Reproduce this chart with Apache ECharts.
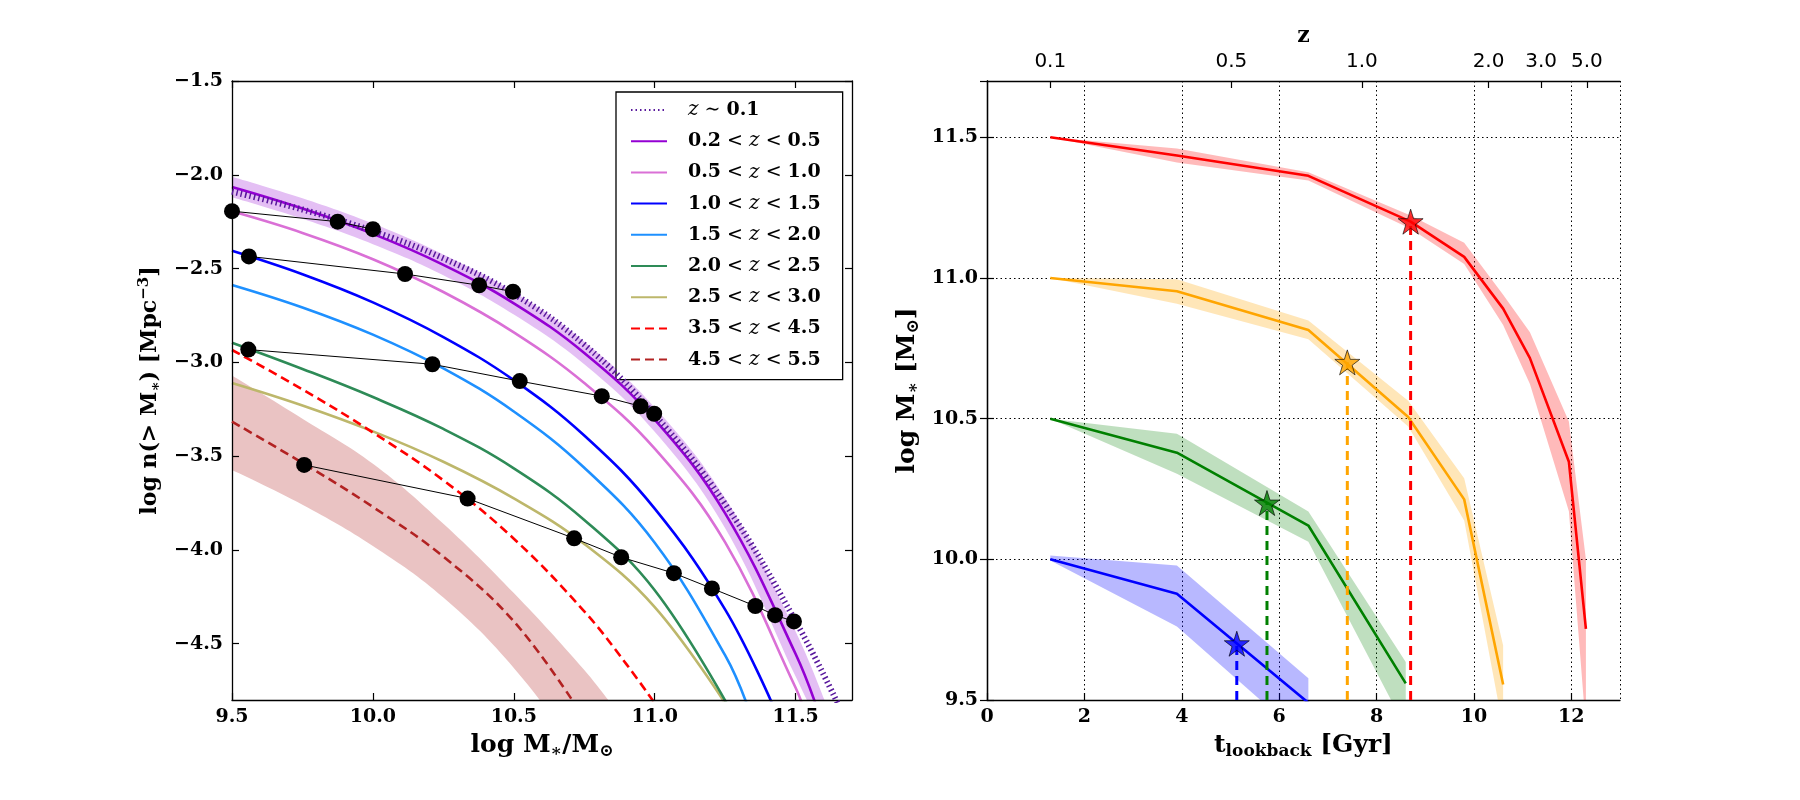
<!DOCTYPE html>
<html>
<head>
<meta charset="utf-8">
<script src="https://cdn.jsdelivr.net/npm/echarts@6/dist/echarts.min.js"></script>
<style>
html,body{margin:0;padding:0;background:#ffffff;}
#c{width:1800px;height:800px;}
</style>
</head>
<body>
<div id="c"></div>
<script>
// ---------------- LEFT PANEL DATA (log M*, log n(>M*)) ----------------
const seriesNames = ['z ∼ 0.1','0.2 < z < 0.5','0.5 < z < 1.0','1.0 < z < 1.5','1.5 < z < 2.0','2.0 < z < 2.5','2.5 < z < 3.0','3.5 < z < 4.5','4.5 < z < 5.5'];

const massZ01 = [9.5, 9.75, 10.0, 10.25, 10.5, 10.75, 11.0, 11.25, 11.5, 11.65];
const nZ01    = [-2.09, -2.185, -2.30, -2.445, -2.635, -2.905, -3.28, -3.755, -4.38, -4.82];

const massZ02 = [9.5, 9.75, 10.0, 10.25, 10.5, 10.75, 11.0, 11.25, 11.5, 11.58];
const nZ02    = [-2.065, -2.18, -2.315, -2.48, -2.685, -2.95, -3.305, -3.805, -4.555, -4.86];

const massZ02Band = [9.5, 9.75, 10.0, 10.25, 10.5, 10.75, 11.0, 11.25, 11.5, 11.62];
const nZ02Hi      = [-2.01, -2.125, -2.26, -2.425, -2.625, -2.89, -3.24, -3.725, -4.435, -4.87];
const nZ02Lo      = [-2.12, -2.235, -2.37, -2.535, -2.745, -3.01, -3.37, -3.885, -4.675, -5.05];

const massZ05 = [9.5, 9.75, 10.0, 10.25, 10.5, 10.75, 11.0, 11.25, 11.5, 11.53];
const nZ05    = [-2.195, -2.31, -2.45, -2.625, -2.84, -3.11, -3.46, -3.96, -4.735, -4.85];

const massZ10 = [9.5, 9.75, 10.0, 10.25, 10.5, 10.75, 11.0, 11.25, 11.42];
const nZ10    = [-2.405, -2.53, -2.68, -2.865, -3.095, -3.39, -3.78, -4.318, -4.83];

const massZ15 = [9.5, 9.75, 10.0, 10.25, 10.5, 10.75, 11.0, 11.25, 11.33];
const nZ15    = [-2.587, -2.707, -2.852, -3.032, -3.262, -3.562, -3.962, -4.562, -4.834];

const massZ20 = [9.5, 9.75, 10.0, 10.25, 10.5, 10.75, 11.0, 11.26];
const nZ20    = [-2.895, -3.035, -3.185, -3.355, -3.565, -3.84, -4.215, -4.83];

const massZ25 = [9.5, 9.75, 10.0, 10.25, 10.5, 10.75, 11.0, 11.25];
const nZ25    = [-3.11, -3.23, -3.368, -3.53, -3.725, -3.968, -4.305, -4.818];

const massZ35 = [9.5, 9.75, 10.0, 10.25, 10.5, 10.75, 10.9, 11.02];
const nZ35    = [-2.934, -3.144, -3.374, -3.629, -3.94, -4.3275, -4.61, -4.86];

const massZ45 = [9.5, 9.75, 10.0, 10.25, 10.5, 10.72];
const nZ45    = [-3.316, -3.536, -3.771, -4.036, -4.381, -4.83];

const massZ45Band = [9.5, 9.75, 10.0, 10.25, 10.5, 10.75, 10.85];
const nZ45Hi      = [-3.07, -3.30, -3.54, -3.86, -4.23, -4.64, -4.83];
const nZ45Lo      = [-3.574, -3.759, -3.979, -4.254, -4.629, -5.13, -5.35];

// constant-density tracks (black points)
const track1M = [9.5, 9.875, 10.0];
const track1N = [-2.194, -2.25, -2.29];
const track2M = [9.56, 10.114, 10.377, 10.497];
const track2N = [-2.435, -2.529, -2.589, -2.623];
const track3M = [9.558, 10.211, 10.521, 10.812, 10.95, 10.998];
const track3N = [-2.932, -3.01, -3.10, -3.18, -3.234, -3.274];
const track4M = [9.756, 10.336, 10.714, 10.881, 11.068, 11.203, 11.357, 11.427, 11.494];
const track4N = [-3.547, -3.726, -3.938, -4.039, -4.124, -4.205, -4.299, -4.348, -4.381];

const leftXTicks = [9.5, 10.0, 10.5, 11.0, 11.5];
const leftYTicks = [-4.5, -4.0, -3.5, -3.0, -2.5, -2.0, -1.5];
const leftYMin = -4.8;

// ---------------- RIGHT PANEL DATA (t_lookback, log M*) ----------------
const tRed = [1.3, 3.9, 6.6, 8.7, 9.8, 10.6, 11.15, 11.95, 12.3];
const mRed = [11.5, 11.435, 11.363, 11.2, 11.075, 10.891, 10.715, 10.347, 9.753];
const mRedHi = [11.5, 11.46, 11.376, 11.222, 11.125, 10.94, 10.807, 10.49, 10.0];
const mRedLo = [11.5, 11.41, 11.346, 11.175, 11.05, 10.833, 10.623, 10.171, 9.4];

const tOrange = [1.3, 3.9, 6.6, 8.65, 9.8, 10.6];
const mOrange = [11.0, 10.953, 10.815, 10.506, 10.213, 9.555];
const mOrangeHi = [11.0, 10.995, 10.849, 10.564, 10.288, 9.694];
const mOrangeLo = [11.0, 10.908, 10.782, 10.472, 10.138, 9.40];

const tGreen = [1.3, 3.9, 6.6, 8.6];
const mGreen = [10.5, 10.379, 10.12, 9.559];
const mGreenHi = [10.5, 10.446, 10.17, 9.635];
const mGreenLo = [10.5, 10.304, 10.062, 9.40];

const tBlue = [1.3, 3.9, 6.6];
const mBlue = [10.0, 9.878, 9.49];
const mBlueHi = [10.014, 9.978, 9.577];
const mBlueLo = [9.996, 9.761, 9.35];

const tStar = [5.13, 5.75, 7.4, 8.7];
const mStar = [9.7, 10.2, 10.7, 11.2];

const zTickLabels = ['0.1', '0.5', '1.0', '2.0', '3.0', '5.0'];
const zTickLookback = [1.3, 5.02, 7.7, 10.3, 11.38, 12.32];

const rightYMin = 9.5;

// ---------------- STYLES ----------------
const SERIF = 'DejaVu Serif';
const SANS = 'DejaVu Sans';
const tickFont = {fontFamily: SERIF, fontWeight: 'bold', fontSize: 19, color: '#000'};
const SM = 0.4;

function pts(xs, ys) { return xs.map((x, i) => [x, ys[i]]); }

// Left-panel band: fill below upper edge with band colour, then cover below lower edge with white.
function leftBand(id, xs, lo, hi, color) {
  return [
    {type: 'line', name: id + '_hi', xAxisIndex: 0, yAxisIndex: 0, smooth: SM, data: pts(xs, hi),
     symbol: 'none', lineStyle: {width: 0, opacity: 0}, areaStyle: {color: color, opacity: 1, origin: 'start'},
     silent: true, z: 1},
    {type: 'line', name: id + '_lo', xAxisIndex: 0, yAxisIndex: 0, smooth: SM, data: pts(xs, lo),
     symbol: 'none', lineStyle: {width: 0, opacity: 0}, areaStyle: {color: '#ffffff', opacity: 1, origin: 'start'},
     silent: true, z: 1}
  ];
}

// Right-panel band: polygon through the library's coordinate system
function rightBand(xs, lo, hi, color) {
  return {
    type: 'custom', coordinateSystem: 'cartesian2d', xAxisIndex: 2, yAxisIndex: 2, silent: true, z: 1, clip: true,
    data: xs.map((x, i) => [x, lo[i], hi[i]]),
    encode: {x: 0, y: [1, 2]},
    renderItem: function (params, api) {
      if (params.dataIndex !== 0) return;
      const p = [];
      for (let i = 0; i < xs.length; i++) p.push(api.coord([xs[i], hi[i]]));
      for (let i = xs.length - 1; i >= 0; i--) p.push(api.coord([xs[i], lo[i]]));
      const cs = params.coordSys;
      return {
        type: 'polygon', shape: {points: p}, style: {fill: color},
        clipPath: {type: 'rect', shape: {x: cs.x, y: cs.y, width: cs.width, height: cs.height}}
      };
    }
  };
}

const leftCurves = [
  {name: seriesNames[6], m: massZ25, n: nZ25, color: '#BDB76B', width: 2.6, type: 'solid'},
  {name: seriesNames[5], m: massZ20, n: nZ20, color: '#2E8B57', width: 2.6, type: 'solid'},
  {name: seriesNames[4], m: massZ15, n: nZ15, color: '#1E90FF', width: 2.6, type: 'solid'},
  {name: seriesNames[3], m: massZ10, n: nZ10, color: '#0000FF', width: 2.6, type: 'solid'},
  {name: seriesNames[2], m: massZ05, n: nZ05, color: '#DA70D6', width: 2.6, type: 'solid'},
  {name: seriesNames[1], m: massZ02, n: nZ02, color: '#9400D3', width: 2.6, type: 'solid'},
  {name: seriesNames[7], m: massZ35, n: nZ35, color: '#FF0000', width: 2.6, type: [9, 5]},
  {name: seriesNames[8], m: massZ45, n: nZ45, color: '#B22222', width: 2.6, type: [9, 5]},
  {name: seriesNames[0], m: massZ01, n: nZ01, color: '#58189C', width: 6, type: [1.5, 3]}
];

const series = [];
series.push(...leftBand('b02', massZ02Band, nZ02Lo, nZ02Hi, '#E4BFF4'));
series.push(...leftBand('b45', massZ45Band, nZ45Lo, nZ45Hi, '#EAC3C3'));

leftCurves.forEach((c, k) => {
  series.push({
    type: 'line', name: c.name, xAxisIndex: 0, yAxisIndex: 0, smooth: SM,
    data: pts(c.m, c.n), symbol: 'none',
    lineStyle: {color: c.color, width: c.width, type: c.type, cap: 'butt'},
    itemStyle: {color: c.color}, z: 3 + k
  });
});

[[track1M, track1N], [track2M, track2N], [track3M, track3N], [track4M, track4N]].forEach((t, k) => {
  series.push({
    type: 'line', name: 'track' + k, xAxisIndex: 0, yAxisIndex: 0,
    data: pts(t[0], t[1]), symbol: 'circle', symbolSize: 16, showAllSymbol: true,
    lineStyle: {color: '#000', width: 1}, itemStyle: {color: '#000'}, z: 20
  });
});

// right panel
const rightSets = [
  {t: tRed, m: mRed, hi: mRedHi, lo: mRedLo, line: '#FF0000', fill: 'rgba(255,0,0,0.27)'},
  {t: tOrange, m: mOrange, hi: mOrangeHi, lo: mOrangeLo, line: '#FFA500', fill: 'rgba(255,165,0,0.28)'},
  {t: tGreen, m: mGreen, hi: mGreenHi, lo: mGreenLo, line: '#008000', fill: 'rgba(0,128,0,0.25)'},
  {t: tBlue, m: mBlue, hi: mBlueHi, lo: mBlueLo, line: '#0000FF', fill: 'rgba(0,0,255,0.28)'}
];
rightSets.forEach((s) => { series.push(rightBand(s.t, s.lo, s.hi, s.fill)); });
rightSets.forEach((s, k) => {
  series.push({
    type: 'line', name: 'r' + k, xAxisIndex: 2, yAxisIndex: 2, data: pts(s.t, s.m),
    symbol: 'none', lineStyle: {color: s.line, width: 2.6}, z: 5
  });
});
const starColors = ['#0000FF', '#008000', '#FFA500', '#FF0000'];
tStar.forEach((t, k) => {
  series.push({
    type: 'line', name: 'v' + k, xAxisIndex: 2, yAxisIndex: 2,
    data: [[t, rightYMin], [t, mStar[k]]], symbol: 'none',
    lineStyle: {color: starColors[k], width: 3, type: [9, 6]}, z: 6
  });
});
series.push({
  type: 'scatter', name: 'stars', xAxisIndex: 2, yAxisIndex: 2,
  symbol: 'path://M50,0 L61.8,36.2 L100,36.2 L69.1,58.8 L80.9,95.1 L50,72.7 L19.1,95.1 L30.9,58.8 L0,36.2 L38.2,36.2 Z',
  symbolSize: 25,
  data: tStar.map((t, k) => ({value: [t, mStar[k]], itemStyle: {color: starColors[k], borderColor: '#000', borderWidth: 0.8}})),
  z: 10
});

function fmtMinus(v) { return (v < 0 ? '\u2212' : '') + Math.abs(v).toFixed(1); }

const axisLineStyle = {show: true, lineStyle: {color: '#000', width: 1.3}};
const tickIn = {show: true, inside: true, length: 7, lineStyle: {color: '#000', width: 1.2}};
const dotted = {show: true, lineStyle: {color: '#000', width: 1, type: [1.5, 3]}};

const nameRich = {
  b: {fontFamily: SERIF, fontWeight: 'bold', fontSize: 22, color: '#000'},
  s: {fontFamily: SERIF, fontWeight: 'bold', fontSize: 15, color: '#000', padding: [12, 0, 0, 0]},
  p: {fontFamily: SERIF, fontWeight: 'bold', fontSize: 15, color: '#000', padding: [0, 0, 12, 0]}
};
const nameRichL = {
  b: {fontFamily: SERIF, fontWeight: 'bold', fontSize: 25, color: '#000'},
  s: {fontFamily: SERIF, fontWeight: 'bold', fontSize: 17, color: '#000', padding: [13, 0, 0, 0]}
};

const option = {
  animation: false,
  backgroundColor: '#ffffff',
  grid: [
    {left: 232, top: 81, width: 620, height: 619, containLabel: false, outerBoundsMode: 'none'},
    {left: 987, top: 81, width: 633, height: 619, containLabel: false, outerBoundsMode: 'none'}
  ],
  xAxis: [
    {type: 'value', gridIndex: 0, position: 'bottom', min: 9.5, max: 11.7, z: 10,
     axisLine: axisLineStyle, axisTick: Object.assign({customValues: leftXTicks}, tickIn), splitLine: {show: false},
     axisLabel: Object.assign({margin: 8, customValues: leftXTicks, formatter: v => v.toFixed(1)}, tickFont),
     name: '{b|log M}{s|∗}{b|/M}{s|⊙}', nameLocation: 'middle', nameGap: 30,
     nameTextStyle: {rich: nameRichL}},
    {type: 'value', gridIndex: 0, position: 'top', min: 9.5, max: 11.7, z: 10,
     axisLine: axisLineStyle, axisTick: Object.assign({customValues: leftXTicks}, tickIn), splitLine: {show: false},
     axisLabel: {show: false}},
    {type: 'value', gridIndex: 1, position: 'bottom', min: 0, max: 13, interval: 2,
     axisLine: axisLineStyle, axisTick: tickIn, splitLine: dotted,
     axisLabel: Object.assign({margin: 8, showMaxLabel: false}, tickFont),
     name: '{b|t}{s|lookback}{b| [Gyr]}', nameLocation: 'middle', nameGap: 30,
     nameTextStyle: {rich: nameRichL}},
    {type: 'value', gridIndex: 1, position: 'top', min: 0, max: 13,
     axisLine: axisLineStyle,
     axisTick: Object.assign({customValues: zTickLookback}, tickIn),
     splitLine: {show: false},
     axisLabel: {show: true, margin: 9, customValues: zTickLookback, fontFamily: SANS, fontSize: 20, color: '#000',
       formatter: function (v) {
         let best = 0;
         zTickLookback.forEach((t, i) => { if (Math.abs(t - v) < Math.abs(zTickLookback[best] - v)) best = i; });
         return zTickLabels[best];
       }},
     name: 'z', nameLocation: 'middle', nameGap: 33,
     nameTextStyle: {fontFamily: SERIF, fontWeight: 'bold', fontSize: 22, color: '#000'}}
  ],
  yAxis: [
    {type: 'value', gridIndex: 0, position: 'left', min: leftYMin, max: -1.5, z: 10,
     axisLine: axisLineStyle, axisTick: Object.assign({customValues: leftYTicks}, tickIn), splitLine: {show: false},
     axisLabel: Object.assign({margin: 9, customValues: leftYTicks, formatter: fmtMinus}, tickFont),
     name: '{b|log n(> M}{s|∗}{b|) [Mpc}{p|−3}{b|]}', nameLocation: 'middle', nameGap: 68,
     nameTextStyle: {rich: nameRich}},
    {type: 'value', gridIndex: 0, position: 'right', min: leftYMin, max: -1.5, z: 10,
     axisLine: axisLineStyle, axisTick: Object.assign({customValues: leftYTicks}, tickIn), splitLine: {show: false},
     axisLabel: {show: false}},
    {type: 'value', gridIndex: 1, position: 'left', min: rightYMin, max: 11.7, interval: 0.5,
     axisLine: axisLineStyle, axisTick: tickIn, splitLine: dotted,
     axisLabel: Object.assign({margin: 9, showMaxLabel: false, formatter: v => v.toFixed(1)}, tickFont),
     name: '{b|log M}{s|∗}{b| [M}{s|⊙}{b|]}', nameLocation: 'middle', nameGap: 65,
     nameTextStyle: {rich: nameRichL}},
    {type: 'value', gridIndex: 1, position: 'right', min: rightYMin, max: 11.7, interval: 0.5,
     axisLine: axisLineStyle, axisTick: tickIn, splitLine: {show: false},
     axisLabel: {show: false}}
  ],
  legend: {
    data: seriesNames,
    orient: 'vertical',
    left: 616, top: 92,
    padding: [7, 22, 9, 14],
    itemWidth: 36, itemHeight: 14, itemGap: 9.2,
    backgroundColor: '#fff',
    borderColor: '#000', borderWidth: 1.3, borderRadius: 0,
    selectedMode: false,
    itemStyle: {opacity: 0},
    lineStyle: {opacity: 1},
    textStyle: {
      lineHeight: 22,
      rich: {
        g: {width: 16},
        b: {fontFamily: SERIF, fontWeight: 'bold', fontSize: 19, color: '#000'},
        i: {fontFamily: SERIF, fontStyle: 'italic', fontSize: 20, color: '#000'},
        r: {fontFamily: SERIF, fontSize: 19, color: '#000'}
      }
    },
    formatter: function (name) {
      return '{g| }' + name.split(' ').map(w => {
        if (w === 'z') return '{i|z}';
        if (w === '<' || w === '∼') return '{r| ' + w + ' }';
        return '{b|' + w + '}';
      }).join('');
    }
  },
  series: series
};

const chart = echarts.init(document.getElementById('c'));
chart.setOption(option);
</script>
</body>
</html>
